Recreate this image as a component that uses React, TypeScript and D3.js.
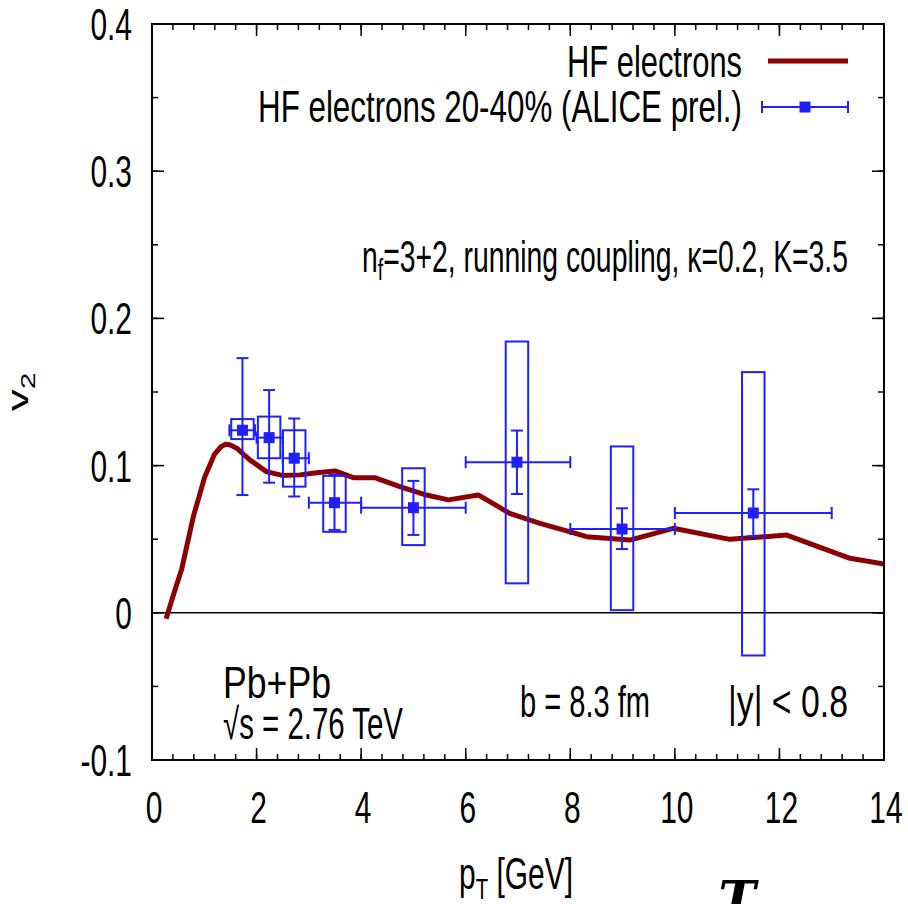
import React from "react";
import * as d3 from "d3";

// ---- data ----
const curvePt = [0.27, 0.4, 0.57, 0.79, 1.01, 1.2, 1.32, 1.41, 1.5, 1.62, 1.87, 2.19, 2.51, 2.83, 3.15, 3.5, 3.85, 4.26, 4.74, 5.25, 5.67, 6.24, 6.46, 6.84, 7.42, 8.0, 8.31, 9.14, 9.97, 11.05, 12.14, 13.35, 14.0];
const curveV2 = [-0.004, 0.011, 0.03, 0.0653, 0.0925, 0.108, 0.1128, 0.1146, 0.1140, 0.1118, 0.1039, 0.0959, 0.0932, 0.0937, 0.0952, 0.0964, 0.0918, 0.0918, 0.0857, 0.08, 0.0767, 0.08, 0.0755, 0.0676, 0.0608, 0.055, 0.0517, 0.0494, 0.0574, 0.0499, 0.0528, 0.037, 0.0331];

const dataPt = [1.73, 2.24, 2.72, 3.49, 5.0, 6.98, 8.99, 11.5];
const dataV2 = [0.124, 0.119, 0.105, 0.0748, 0.0714, 0.1023, 0.0569, 0.0678];
const statLo = [0.08, 0.0884, 0.079, 0.0563, 0.0529, 0.0807, 0.0433, 0.052];
const statHi = [0.173, 0.1513, 0.132, 0.0937, 0.0896, 0.1238, 0.071, 0.0839];
const sysLo = [0.118, 0.105, 0.0857, 0.055, 0.046, 0.02, 0.0018, -0.029];
const sysHi = [0.1316, 0.1333, 0.124, 0.093, 0.0982, 0.1843, 0.113, 0.1635];
const ptLo = [1.48, 2.0, 2.5, 3.0, 4.0, 6.0, 8.0, 10.0];
const ptHi = [1.97, 2.5, 3.0, 4.0, 6.0, 8.0, 10.0, 13.0];
const sysHalfWidth = 0.215;

const xTicks = [0, 2, 4, 6, 8, 10, 12, 14];
const yTicks = [-0.1, 0, 0.1, 0.2, 0.3, 0.4];
const yTickLabels = ["-0.1", "0", "0.1", "0.2", "0.3", "0.4"];

const W = 908, H = 904;
const L = 152, R = 884, T = 24, B = 760;
const FONT = "'Liberation Sans', Arial, Helvetica, sans-serif";
const FS = 44;
const SX = 0.68;
const BLUE = "#1f1fff";
const RED = "#8b0000";

const x = d3.scaleLinear().domain([0, 14]).range([L, R]);
const y = d3.scaleLinear().domain([-0.1, 0.4]).range([B, T]);

function Txt({ x: tx, y: ty, anchor = "start", len, children, fs = FS }: any) {
  return (
    <g transform={`translate(${tx},${ty}) scale(${SX},1)`}>
      <text
        x={0}
        y={0}
        textAnchor={anchor}
        fontFamily={FONT}
        fontSize={fs}
        fill="#000"
        textLength={len ? len / SX : undefined}
        lengthAdjust={len ? "spacingAndGlyphs" : undefined}
      >
        {children}
      </text>
    </g>
  );
}

export default function App() {
  const line = d3
    .line<number>()
    .x((_, i) => x(curvePt[i]))
    .y((d) => y(d));
  const curvePath = line(curveV2) || "";

  const xMinor = d3.range(0, 14.001, 0.4);
  const yMinor = d3.range(-0.1, 0.4001, 0.05);
  const cap = 6;

  return (
    <svg
      width={W}
      height={H}
      viewBox={`0 0 ${W} ${H}`}
      style={{ position: "absolute", left: 0, top: 0, background: "#fff" }}
    >
      <rect x={0} y={0} width={W} height={H} fill="#fff" />
      <defs>
        <clipPath id="plotclip">
          <rect x={L} y={T} width={R - L} height={B - T} />
        </clipPath>
      </defs>

      {/* zero line */}
      <line x1={L} x2={R} y1={y(0)} y2={y(0)} stroke="#000" strokeWidth={1.5} />

      {/* ticks */}
      <g stroke="#000" strokeWidth={1.5}>
        {xMinor.map((v, i) => (
          <g key={"xm" + i}>
            <line x1={x(v)} x2={x(v)} y1={B} y2={B - 6} />
            <line x1={x(v)} x2={x(v)} y1={T} y2={T + 6} />
          </g>
        ))}
        {xTicks.map((v) => (
          <g key={"xM" + v}>
            <line x1={x(v)} x2={x(v)} y1={B} y2={B - 12} />
            <line x1={x(v)} x2={x(v)} y1={T} y2={T + 12} />
          </g>
        ))}
        {yMinor.map((v, i) => (
          <g key={"ym" + i}>
            <line x1={L} x2={L + 6} y1={y(v)} y2={y(v)} />
            <line x1={R} x2={R - 6} y1={y(v)} y2={y(v)} />
          </g>
        ))}
        {yTicks.map((v) => (
          <g key={"yM" + v}>
            <line x1={L} x2={L + 12} y1={y(v)} y2={y(v)} />
            <line x1={R} x2={R - 12} y1={y(v)} y2={y(v)} />
          </g>
        ))}
      </g>

      {/* model curve */}
      <path d={curvePath} fill="none" stroke={RED} strokeWidth={5} strokeLinejoin="round" clipPath="url(#plotclip)" />

      {/* data */}
      <g stroke={BLUE} strokeWidth={2} fill="none" clipPath="url(#plotclip)">
        {dataPt.map((p, i) => (
          <g key={"d" + i}>
            <rect
              x={x(p - sysHalfWidth)}
              y={y(sysHi[i])}
              width={x(p + sysHalfWidth) - x(p - sysHalfWidth)}
              height={y(sysLo[i]) - y(sysHi[i])}
            />
            <line x1={x(ptLo[i])} x2={x(ptHi[i])} y1={y(dataV2[i])} y2={y(dataV2[i])} />
            <line x1={x(ptLo[i])} x2={x(ptLo[i])} y1={y(dataV2[i]) - cap} y2={y(dataV2[i]) + cap} />
            <line x1={x(ptHi[i])} x2={x(ptHi[i])} y1={y(dataV2[i]) - cap} y2={y(dataV2[i]) + cap} />
            <line x1={x(p)} x2={x(p)} y1={y(statHi[i])} y2={y(statLo[i])} />
            <line x1={x(p) - cap} x2={x(p) + cap} y1={y(statHi[i])} y2={y(statHi[i])} />
            <line x1={x(p) - cap} x2={x(p) + cap} y1={y(statLo[i])} y2={y(statLo[i])} />
            <rect x={x(p) - 5.5} y={y(dataV2[i]) - 5.5} width={11} height={11} fill={BLUE} stroke="none" />
          </g>
        ))}
      </g>

      {/* frame */}
      <rect x={L} y={T} width={R - L} height={B - T} fill="none" stroke="#000" strokeWidth={2} />

      {/* tick labels */}
      {yTicks.map((v, i) => (
        <Txt key={"yl" + i} x={132} y={y(v) + 16} anchor="end">
          {yTickLabels[i]}
        </Txt>
      ))}
      {xTicks.map((v) => (
        <Txt key={"xl" + v} x={x(v) + 2} y={823} anchor="middle">
          {String(v)}
        </Txt>
      ))}

      {/* axis titles */}
      <g transform={`translate(28,392) scale(${SX},1) rotate(-90)`}>
        <text x={0} y={0} textAnchor="middle" fontFamily={FONT} fontSize={FS} fill="#000">
          v<tspan fontSize={30} dy={10}>2</tspan>
        </text>
      </g>
      <g transform={`translate(516,889) scale(${SX},1)`}>
        <text x={0} y={0} textAnchor="middle" fontFamily={FONT} fontSize={FS} fill="#000">
          p<tspan fontSize={30} dy={10}>T</tspan>
          <tspan dy={-10}> [GeV]</tspan>
        </text>
      </g>

      {/* legend */}
      <Txt x={742} y={77} anchor="end" len={175}>HF electrons</Txt>
      <line x1={768} x2={848} y1={61} y2={61} stroke={RED} strokeWidth={5} />
      <Txt x={742} y={122} anchor="end" len={484}>HF electrons 20-40% (ALICE prel.)</Txt>
      <g stroke={BLUE} strokeWidth={2}>
        <line x1={762} x2={848} y1={107} y2={107} />
        <line x1={762} x2={762} y1={101} y2={113} />
        <line x1={848} x2={848} y1={101} y2={113} />
      </g>
      <rect x={799.5} y={101.5} width={11} height={11} fill={BLUE} />

      {/* annotations */}
      <g transform={`translate(362,272) scale(${SX},1)`}>
        <text
          x={0}
          y={0}
          fontFamily={FONT}
          fontSize={FS}
          fill="#000"
          textLength={486 / SX}
          lengthAdjust="spacingAndGlyphs"
        >
          n<tspan fontSize={30} dy={8}>f</tspan>
          <tspan dy={-8}>=3+2, running coupling, κ=0.2, K=3.5</tspan>
        </text>
      </g>
      <Txt x={223} y={698} len={108}>Pb+Pb</Txt>
      <Txt x={223} y={739} len={180}>√s = 2.76 TeV</Txt>
      <Txt x={520} y={717} len={130}>b = 8.3 fm</Txt>
      <Txt x={728} y={717} len={120}>|y| &lt; 0.8</Txt>

      {/* cropped glyph at bottom edge */}
      <text x={737} y={917} textAnchor="middle" fontFamily="'DejaVu Serif', serif" fontWeight="bold" fontStyle="italic" fontSize={50} fill="#000">
        T
      </text>
    </svg>
  );
}
